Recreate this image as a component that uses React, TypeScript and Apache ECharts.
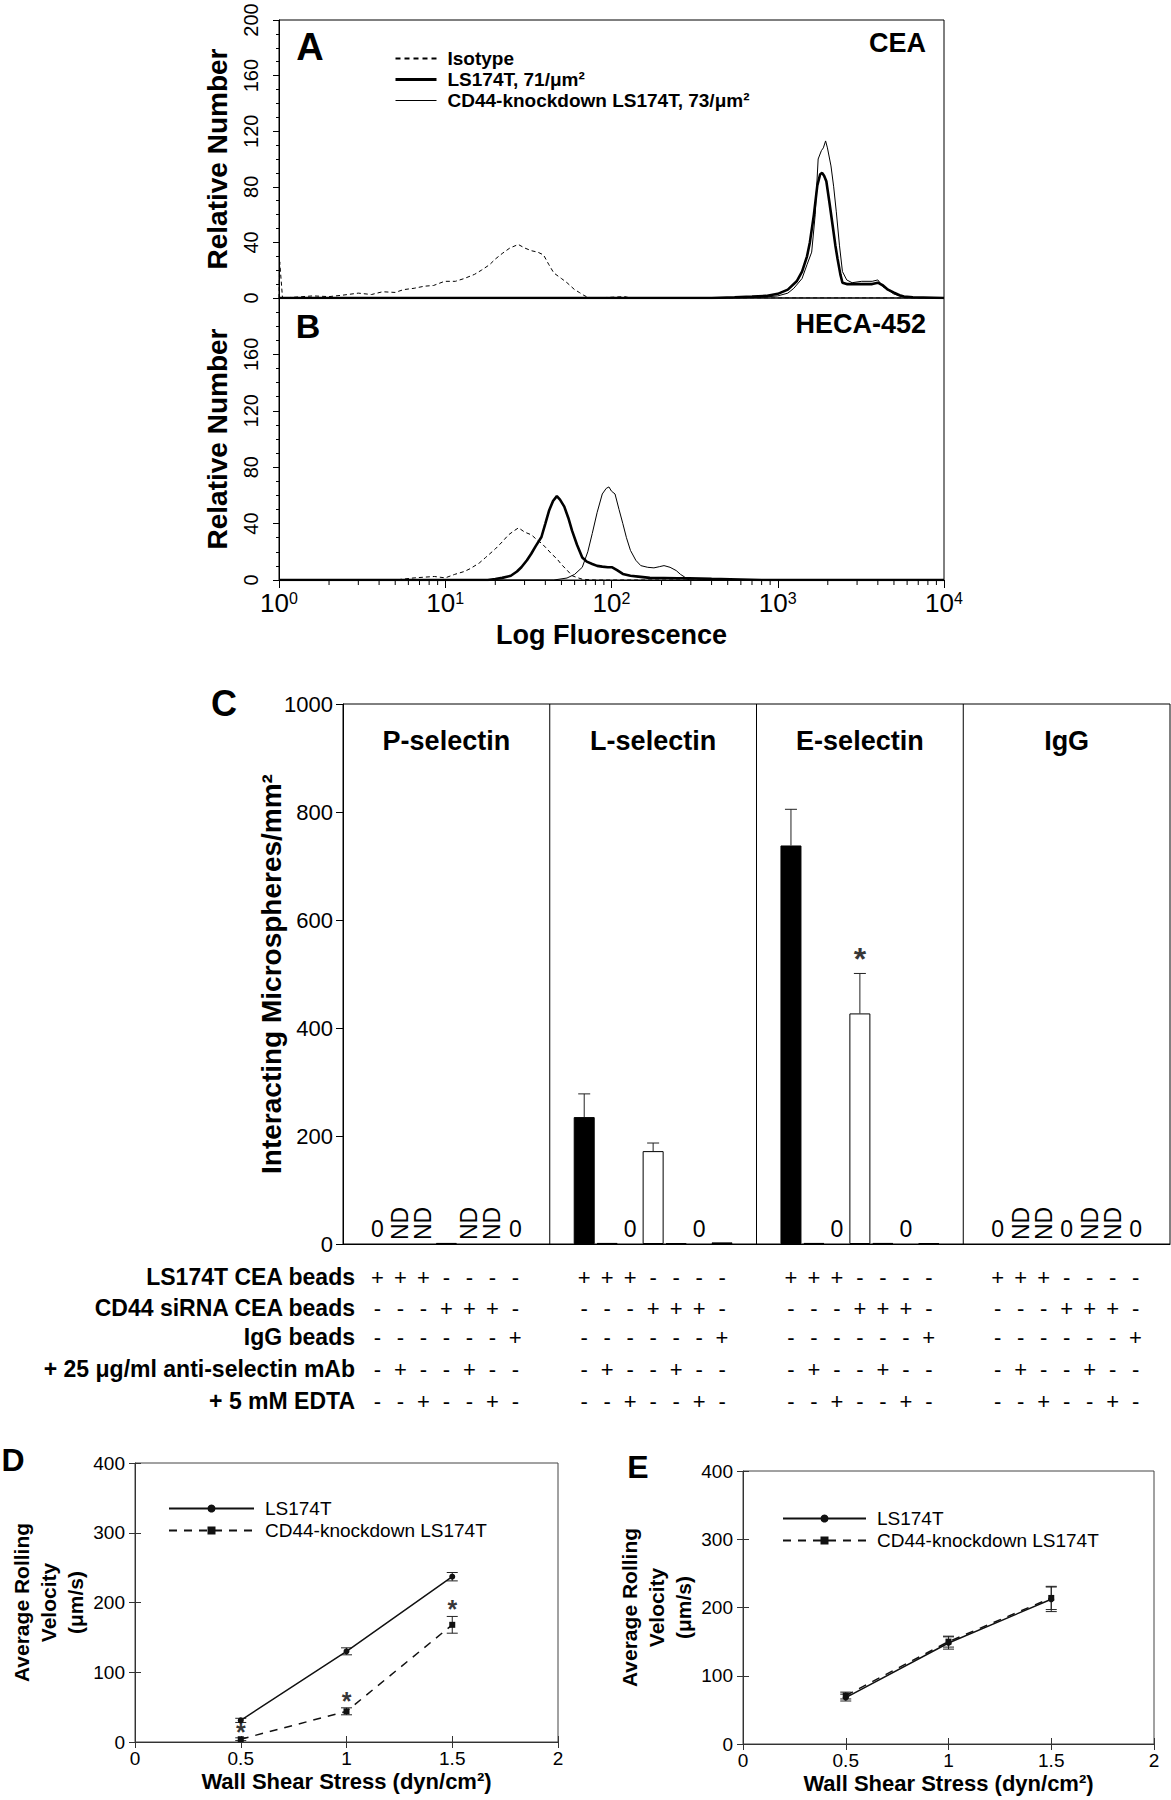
import { useEffect, useRef } from 'react';
import * as echarts from 'echarts';

const FONT = "'Liberation Sans', Arial, Helvetica, sans-serif";

// ---------- Panels A & B : [log fluorescence, relative number] ----------
const isotypeA = [[1, 0], [1.01, 26], [1.05, 0], [1.6, 1.5], [2, 1], [2.4, 2], [3, 3.5], [3.6, 2.5], [4.2, 4.5], [5, 4], [5.6, 6], [6.5, 7], [7.5, 8.5], [8.5, 9], [9.9, 12], [11.5, 12], [13, 14], [15, 17], [16.5, 20], [18.5, 24], [20, 28], [22, 32], [24.5, 36], [27.5, 38.5], [30, 36], [33, 34], [36, 33], [39, 31], [42, 24], [45, 18], [50, 14], [54, 11], [60, 6], [64, 4], [68, 2], [72, 0.5], [80, 0], [120, 1], [130, 0], [10000, 0]];
const ls174tA = [[1, 0], [400, 0], [550, 0.5], [700, 1], [850, 1.5], [1000, 3], [1150, 6], [1300, 12], [1400, 19], [1500, 30], [1560, 40], [1650, 60], [1730, 81], [1800, 89], [1850, 90], [1900, 88], [1960, 84], [2050, 68], [2140, 52], [2220, 38], [2290, 28], [2380, 17], [2450, 11], [2600, 10], [2800, 10], [3200, 10], [3700, 10], [4000, 11], [4300, 9], [4600, 6], [4970, 4], [5400, 2], [5740, 1], [6500, 0.5], [10000, 0]];
const cd44kdA = [[1, 0], [500, 0], [800, 0.5], [1000, 1.5], [1150, 3.5], [1250, 7], [1400, 14], [1500, 24], [1600, 33], [1680, 60], [1750, 100], [1830, 106], [1880, 108], [1940, 113], [1990, 108], [2090, 95], [2170, 80], [2250, 62], [2350, 38], [2450, 19], [2600, 13], [2800, 11], [3200, 12], [3700, 12], [4000, 13], [4300, 8], [4600, 6], [4970, 3], [5400, 1.5], [5740, 1], [7000, 0], [10000, 0]];
const isotypeB = [[1, 0], [5, 0], [6.5, 1.5], [8.6, 2.5], [10, 1.5], [11.4, 4], [13, 6], [14.1, 8], [16, 12], [17.5, 16], [20, 22], [22, 27], [24, 32], [26, 35], [27.6, 37], [30, 34], [33, 32], [36, 28], [38, 26], [41, 22], [43.6, 18.5], [47, 15], [50, 11], [54, 7], [58, 3], [63, 1.5], [67, 0.5], [80, 0], [10000, 0]];
const ls174tB = [[1, 0], [18, 0], [20, 0.7], [22, 1.5], [24.8, 3], [27, 6], [28.7, 9], [31, 14], [32.9, 18.6], [35, 24], [37.9, 30.5], [40, 40], [42.2, 49.5], [44.5, 56], [46.9, 59.5], [49, 57], [52, 52], [55, 44], [57.9, 35], [62, 25], [66.7, 16], [71, 13], [76.6, 11.4], [82, 10], [88, 9.5], [95, 9], [101, 9], [108, 7], [117, 4.3], [130, 3], [145, 2.4], [170, 1.5], [207, 1.4], [250, 1.2], [294, 1.2], [400, 0.8], [517, 0.5], [800, 0], [10000, 0]];
const cd44kdB = [[1, 0], [45, 0], [54, 1.4], [60, 4], [66.7, 9], [72, 20], [76.6, 33], [82, 48], [88, 61], [93, 65], [96.5, 66], [100, 63], [105, 61], [111, 50], [117, 40], [123, 30], [130, 21], [140, 14], [150, 10.2], [165, 9], [180, 8.6], [195, 9.5], [207, 10.2], [225, 9], [245, 6.7], [260, 4], [273, 2.4], [285, 0.5], [300, 0], [10000, 0]];
const logMinorTicks = [2, 3, 4, 5, 6, 7, 8, 9, 20, 30, 40, 50, 60, 70, 80, 90, 200, 300, 400, 500, 600, 700, 800, 900, 2000, 3000, 4000, 5000, 6000, 7000, 8000, 9000];
const histNames = ['Isotype', 'LS174T, 71/μm²', 'CD44-knockdown LS174T, 73/μm²'];

// ---------- Panel C ----------
const selectins = ['P-selectin', 'L-selectin', 'E-selectin', 'IgG'];
const pSelectin = [0, null, null, 2, null, null, 0];
const lSelectin = [235, 2, 0, 172, 1.5, 0, 3];
const eSelectin = [738, 2, 0, 427, 2, 0, 1.5];
const igGControl = [0, null, null, 0, null, null, 0];
const pSelectinErr = [0, 0, 0, 0, 0, 0, 0];
const lSelectinErr = [43, 0, 0, 15, 0, 0, 0];
const eSelectinErr = [67, 0, 0, 74, 0, 0, 0];
const igGControlErr = [0, 0, 0, 0, 0, 0, 0];
const cStars = [[2, 3, 545]]; // [group, column, value]
const rowLabels = ['LS174T CEA beads', 'CD44 siRNA CEA beads', 'IgG beads', '+ 25 μg/ml anti-selectin mAb', '+ 5 mM EDTA'];
const rowSigns = ['+++----', '---+++-', '------+', '-+--+--', '--+--+-'];

// ---------- Panels D & E ----------
const shearStress = [0.5, 1, 1.5];
const dLS174T = [31, 130, 237];
const dLS174TErr = [3, 5, 6];
const dKnockdown = [4, 44, 168];
const dKnockdownErr = [2, 5, 12];
const dStars = [18, 63, 195];
const eLS174T = [68, 148, 212];
const eLS174TErr = [5, 9, 18];
const eKnockdown = [71, 150, 214];
const eKnockdownErr = [5, 8, 17];
const rollNames = ['LS174T', 'CD44-knockdown LS174T'];

const cValues = [pSelectin, lSelectin, eSelectin, igGControl];
const cErrors = [pSelectinErr, lSelectinErr, eSelectinErr, igGControlErr];
const SLOTS = 9;

function buildOption() {
  const cats: string[] = [];
  selectins.forEach((g) => { for (let k = 0; k < SLOTS; k++) cats.push(g + '#' + k); });

  const barData: any[] = [];
  const cErrData: number[][] = [];
  selectins.forEach((_, g) => {
    for (let k = 0; k < SLOTS; k++) {
      const col = k - 1;
      if (col < 0 || col > 6) { barData.push('-'); continue; }
      const v = cValues[g][col];
      const idx = g * SLOTS + k;
      if (v === null) {
        barData.push({ value: 0, itemStyle: { color: 'transparent', borderWidth: 0 }, label: { show: true, formatter: 'ND', position: 'top', distance: 4, rotate: 90, align: 'left', verticalAlign: 'middle', fontSize: 23, color: '#000', fontFamily: FONT } });
      } else if (v === 0) {
        barData.push({ value: 0, itemStyle: { color: 'transparent', borderWidth: 0 }, label: { show: true, formatter: '0', position: 'top', distance: 4, fontSize: 23, color: '#000', fontFamily: FONT } });
      } else {
        const style = col < 3 ? { color: '#000', borderColor: '#000', borderWidth: 1 } : col < 6 ? { color: '#fff', borderColor: '#000', borderWidth: 1 } : { color: '#999', borderColor: '#000', borderWidth: 1 };
        barData.push({ value: v, itemStyle: style });
        const e = cErrors[g][col];
        if (e > 0) cErrData.push([idx, v, v + e]);
      }
    }
  });

  const textBase = { color: '#000', fontFamily: FONT };

  const errRender = (capHalf: number) => (params: any, api: any) => {
    const x = api.value(0);
    const lo = api.coord([x, api.value(1)]);
    const hi = api.coord([x, api.value(2)]);
    const st = { stroke: '#222', lineWidth: 1 };
    const children: any[] = [
      { type: 'line', shape: { x1: lo[0], y1: lo[1], x2: hi[0], y2: hi[1] }, style: st },
      { type: 'line', shape: { x1: hi[0] - capHalf, y1: hi[1], x2: hi[0] + capHalf, y2: hi[1] }, style: st },
    ];
    if (params.seriesName.indexOf('sym') >= 0) {
      children.push({ type: 'line', shape: { x1: lo[0] - capHalf, y1: lo[1], x2: lo[0] + capHalf, y2: lo[1] }, style: st });
    }
    return { type: 'group', children };
  };

  const histSeries = (data: number[][], idx: number, name: string, ax: number) => ({
    type: 'line', name, xAxisIndex: ax, yAxisIndex: ax, data, symbol: 'none', showSymbol: false,
    lineStyle: idx === 0 ? { color: '#000', width: 1, type: [4, 3] } : idx === 1 ? { color: '#000', width: 2.6 } : { color: '#000', width: 1 },
    itemStyle: { color: '#000' }, z: idx === 1 ? 4 : 3,
  });

  const yHist = (grid: number, showMax: boolean) => ({
    gridIndex: grid, type: 'value', min: 0, max: 200, interval: 40,
    axisLine: { show: true, lineStyle: { color: '#000' } },
    axisTick: { show: true, length: 6, lineStyle: { color: '#000' } },
    minorTick: { show: true, splitNumber: 4, length: 3, lineStyle: { color: '#000' } },
    splitLine: { show: false },
    axisLabel: { rotate: 90, margin: 18, fontSize: 20, showMaxLabel: showMax, ...textBase },
    name: 'Relative Number', nameLocation: 'middle', nameRotate: 90, nameGap: 48,
    nameTextStyle: { fontSize: 28, fontWeight: 'bold', ...textBase },
  });

  const rollX = (grid: number, top: boolean) => ({
    gridIndex: grid, type: 'value', min: 0, max: 2, interval: 0.5, position: top ? 'top' : 'bottom',
    axisLine: { show: !top, lineStyle: { color: '#333' } },
    axisTick: { show: true, inside: true, length: 6, lineStyle: { color: '#333' } },
    splitLine: { show: false },
    axisLabel: { show: !top, fontSize: 19, margin: 7, formatter: (v: number) => String(v), ...textBase },
    name: top ? '' : 'Wall Shear Stress (dyn/cm²)', nameLocation: 'middle', nameGap: 28,
    nameTextStyle: { fontSize: 22, fontWeight: 'bold', ...textBase },
  });
  const rollY = (grid: number, right: boolean, gap: number) => ({
    gridIndex: grid, type: 'value', min: 0, max: 400, interval: 100, position: right ? 'right' : 'left',
    axisLine: { show: !right, lineStyle: { color: '#333' } },
    axisTick: { show: true, inside: true, length: 6, lineStyle: { color: '#333' } },
    splitLine: { show: false },
    axisLabel: { show: !right, fontSize: 19, margin: 10, ...textBase },
    name: right ? '' : 'Average Rolling\nVelocity\n(μm/s)', nameLocation: 'middle', nameRotate: 90, nameGap: gap,
    nameTextStyle: { fontSize: 21, fontWeight: 'bold', lineHeight: 27, ...textBase },
  });

  const rollSeries = (xi: number, yi: number, ls: number[], lsErr: number[], kd: number[], kdErr: number[]) => [
    { type: 'line', name: rollNames[0], xAxisIndex: xi, yAxisIndex: yi, data: shearStress.map((x, i) => [x, ls[i]]), symbol: 'circle', symbolSize: 6, lineStyle: { color: '#111', width: 1.5 }, itemStyle: { color: '#111' }, z: 4 },
    { type: 'line', name: rollNames[1], xAxisIndex: xi, yAxisIndex: yi, data: shearStress.map((x, i) => [x, kd[i]]), symbol: 'rect', symbolSize: 6, lineStyle: { color: '#111', width: 1.5, type: [8, 7] }, itemStyle: { color: '#111' }, z: 4 },
    { type: 'custom', name: 'sym-err-ls', xAxisIndex: xi, yAxisIndex: yi, data: shearStress.map((x, i) => [x, ls[i] - lsErr[i], ls[i] + lsErr[i]]), renderItem: errRender(5.5), z: 3 },
    { type: 'custom', name: 'sym-err-kd', xAxisIndex: xi, yAxisIndex: yi, data: shearStress.map((x, i) => [x, kd[i] - kdErr[i], kd[i] + kdErr[i]]), renderItem: errRender(5.5), z: 3 },
  ];

  const tableAxes = rowSigns.map((signs, r) => ({
    gridIndex: 2, type: 'category', data: cats, position: 'bottom', offset: [22, 53, 82, 114, 146][r],
    axisLine: { show: false }, axisTick: { show: false }, splitLine: { show: false },
    axisLabel: {
      interval: 0, margin: 0, fontSize: 22, hideOverlap: false, ...textBase,
      formatter: (_: string, i: number) => { const col = (i % SLOTS) - 1; return col >= 0 && col <= 6 ? signs[col] : ''; },
    },
  }));

  const graphicText = (text: string, x: number, y: number, size: number, align = 'center', weight = 'bold') => ({
    type: 'text', x, y, silent: true,
    style: { text, fontSize: size, fontWeight: weight, fontFamily: FONT, fill: '#000', align, verticalAlign: 'middle', textAlign: align, textVerticalAlign: 'middle' },
  });

  const legendLine = [
    { name: histNames[0], itemStyle: { opacity: 0 }, lineStyle: { width: 1.8, type: [5, 4], color: '#000' } },
    { name: histNames[1], itemStyle: { opacity: 0 }, lineStyle: { width: 3, color: '#000' } },
    { name: histNames[2], itemStyle: { opacity: 0 }, lineStyle: { width: 1, color: '#000' } },
  ];

  return {
    animation: false,
    backgroundColor: '#fff',
    grid: [
      { left: 279, top: 20, width: 665, height: 278, show: true, borderColor: '#000', borderWidth: 1 },
      { left: 279, top: 298, width: 665, height: 282, show: true, borderColor: '#000', borderWidth: 1 },
      { left: 343, top: 704, width: 827, height: 540, show: true, borderColor: '#000', borderWidth: 1 },
      { left: 135, top: 1463, width: 423, height: 279, show: true, borderColor: '#444', borderWidth: 1 },
      { left: 743, top: 1471, width: 411, height: 273, show: true, borderColor: '#444', borderWidth: 1 },
    ],
    legend: [
      { left: 389, top: 44, orient: 'vertical', itemWidth: 41, itemHeight: 10, itemGap: 2, selectedMode: false, data: legendLine, textStyle: { fontSize: 19, fontWeight: 'bold', padding: [0, 0, 0, 6], ...textBase } },
      { left: 163, top: 1494, orient: 'vertical', itemWidth: 85, itemHeight: 10, itemGap: 3, selectedMode: false, data: rollNames, textStyle: { fontSize: 19, padding: [0, 0, 0, 6], ...textBase } },
      { left: 777, top: 1504, orient: 'vertical', itemWidth: 83, itemHeight: 10, itemGap: 3, selectedMode: false, data: rollNames, textStyle: { fontSize: 19, padding: [0, 0, 0, 6], ...textBase } },
    ],
    xAxis: [
      { gridIndex: 0, type: 'log', logBase: 10, min: 1, max: 10000, axisLine: { show: false }, axisTick: { show: false }, axisLabel: { show: false }, splitLine: { show: false } },
      {
        gridIndex: 1, type: 'log', logBase: 10, min: 1, max: 10000,
        axisLine: { show: true, lineStyle: { color: '#000' } }, axisTick: { show: true, length: 8, lineStyle: { color: '#000' } }, splitLine: { show: false },
        axisLabel: {
          margin: 10, formatter: (v: number) => '{b|10}{s|' + Math.round(Math.log10(v)) + '}',
          rich: { b: { fontSize: 26, fontFamily: FONT, color: '#000' }, s: { fontSize: 16, fontFamily: FONT, color: '#000', verticalAlign: 'top' } },
        },
        name: 'Log Fluorescence', nameLocation: 'middle', nameGap: 41, nameTextStyle: { fontSize: 27, fontWeight: 'bold', ...textBase },
      },
      { gridIndex: 2, type: 'category', data: cats, axisLine: { show: true, lineStyle: { color: '#000' } }, axisTick: { show: false }, axisLabel: { show: false }, splitLine: { show: false } },
      ...tableAxes,
      rollX(3, false), rollX(3, true), rollX(4, false), rollX(4, true),
    ],
    yAxis: [
      yHist(0, true), yHist(1, false),
      {
        gridIndex: 2, type: 'value', min: 0, max: 1000, interval: 200,
        axisLine: { show: true, lineStyle: { color: '#000' } }, axisTick: { show: true, length: 7, lineStyle: { color: '#000' } }, splitLine: { show: false },
        axisLabel: { fontSize: 22, margin: 10, formatter: (v: number) => String(v), ...textBase },
        name: 'Interacting Microspheres/mm²', nameLocation: 'middle', nameRotate: 90, nameGap: 58, nameMoveOverlap: false,
        nameTextStyle: { fontSize: 28, fontWeight: 'bold', ...textBase },
      },
      rollY(3, false, 43), rollY(3, true, 0), rollY(4, false, 45), rollY(4, true, 0),
    ],
    series: [
      histSeries(isotypeA, 0, histNames[0], 0), histSeries(cd44kdA, 2, histNames[2], 0), histSeries(ls174tA, 1, histNames[1], 0),
      histSeries(isotypeB, 0, histNames[0], 1), histSeries(cd44kdB, 2, histNames[2], 1), histSeries(ls174tB, 1, histNames[1], 1),
      {
        type: 'custom', name: 'minor-log-ticks', xAxisIndex: 1, yAxisIndex: 1, data: logMinorTicks.map((v) => [v, 0]),
        renderItem: (_: any, api: any) => { const p = api.coord([api.value(0), 0]); return { type: 'line', shape: { x1: p[0], y1: p[1], x2: p[0], y2: p[1] + 5 }, style: { stroke: '#000', lineWidth: 1 } }; },
      },
      { type: 'bar', name: 'microspheres', xAxisIndex: 2, yAxisIndex: 2, data: barData, barWidth: 21, z: 3 },
      { type: 'custom', name: 'c-err', xAxisIndex: 2, yAxisIndex: 2, data: cErrData, renderItem: errRender(6), z: 2 },
      {
        type: 'custom', name: 'c-groups', xAxisIndex: 2, yAxisIndex: 2, data: selectins.map((_, g) => [g * SLOTS, 0]),
        renderItem: (params: any, api: any) => {
          const g = params.dataIndex;
          const yTop = api.coord([0, 1000])[1];
          const yBot = api.coord([0, 0])[1];
          const xc = api.coord([g * SLOTS + 4, 0])[0];
          const children: any[] = [{ type: 'text', x: xc, y: yTop + 37, style: { text: selectins[g], fontSize: 27, fontWeight: 'bold', fontFamily: FONT, fill: '#000', align: 'center', verticalAlign: 'middle' } }];
          if (g > 0) {
            const xs = (api.coord([g * SLOTS - 1, 0])[0] + api.coord([g * SLOTS, 0])[0]) / 2;
            children.push({ type: 'line', shape: { x1: xs, y1: yTop, x2: xs, y2: yBot }, style: { stroke: '#000', lineWidth: 1 } });
          }
          return { type: 'group', children };
        },
      },
      {
        type: 'scatter', name: 'c-stars', xAxisIndex: 2, yAxisIndex: 2, symbol: 'circle', symbolSize: 1, itemStyle: { color: 'transparent' },
        data: cStars.map(([g, c, v]) => [g * SLOTS + 1 + c, v]),
        label: { show: true, formatter: '*', position: 'inside', offset: [0, 9], fontSize: 32, fontWeight: 'bold', ...textBase },
      },
      ...rollSeries(8, 3, dLS174T, dLS174TErr, dKnockdown, dKnockdownErr),
      {
        type: 'scatter', name: 'd-stars', xAxisIndex: 8, yAxisIndex: 3, symbol: 'circle', symbolSize: 1, itemStyle: { color: 'transparent' },
        data: shearStress.map((x, i) => [x, dStars[i]]),
        label: { show: true, formatter: '*', position: 'inside', offset: [0, 3], fontSize: 25, fontWeight: 'bold', ...textBase },
      },
      ...rollSeries(10, 5, eLS174T, eLS174TErr, eKnockdown, eKnockdownErr),
    ],
    graphic: [
      graphicText('A', 310, 47, 38),
      graphicText('B', 308, 326, 34),
      graphicText('CEA', 926, 43, 27, 'right'),
      graphicText('HECA-452', 926, 324, 27, 'right'),
      graphicText('C', 224, 703, 36),
      graphicText('D', 13, 1460, 32),
      graphicText('E', 638, 1467, 32),
      ...rowLabels.map((t, r) => graphicText(t, 355, [1277, 1308, 1337, 1369, 1401][r], 23, 'right')),
    ],
  };
}

export default function App() {
  const ref = useRef<HTMLDivElement>(null);
  useEffect(() => {
    if (!ref.current) return;
    const chart = echarts.init(ref.current, null, { renderer: 'svg' });
    chart.setOption(buildOption() as any);
    return () => chart.dispose();
  }, []);
  return <div ref={ref} style={{ position: 'absolute', left: 0, top: 0, width: 1171, height: 1800, background: '#fff' }} />;
}
